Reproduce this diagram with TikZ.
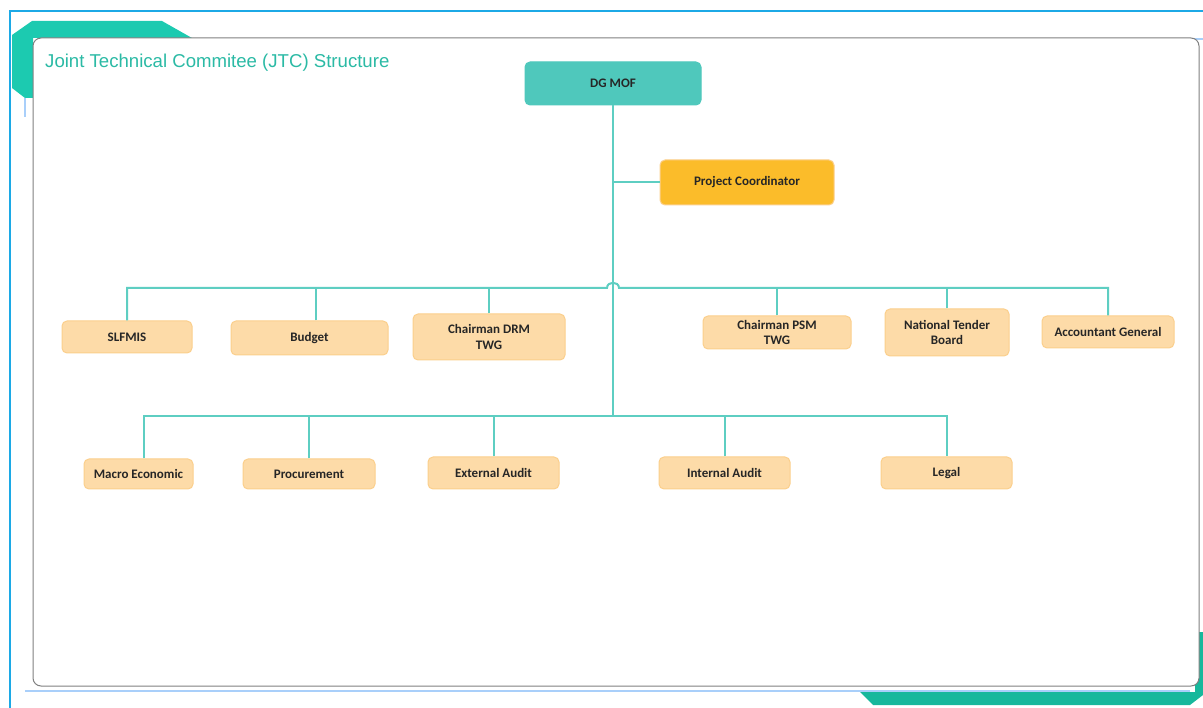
\documentclass[tikz,border=0pt]{standalone}
\usepackage{fontspec}
\setmainfont{Carlito}
\newfontfamily\titlefont{Liberation Sans}
\definecolor{outerblue}{HTML}{1CA9E6}
\definecolor{lightblue}{HTML}{A9CFFA}
\definecolor{tealA}{HTML}{1CCAB0}
\definecolor{tealB}{HTML}{17B89C}
\definecolor{titlec}{HTML}{2BBAA5}
\definecolor{linkc}{HTML}{5ECEC2}
\definecolor{boxfill}{HTML}{FDDBA8}
\definecolor{boxline}{HTML}{FBCF8C}
\definecolor{dgfill}{HTML}{4FC8BC}
\definecolor{pcfill}{HTML}{FBBC2A}
\definecolor{txt}{HTML}{262626}
\begin{document}
\begin{tikzpicture}[x=1pt,y=-1pt,
  box/.style={draw=boxline, fill=boxfill, rounded corners=5pt, line width=1pt,
    font=\bfseries\fontsize{13}{15.5}\selectfont, text=txt, align=center, inner sep=0pt},
  link/.style={draw=linkc, line width=2pt}]
\useasboundingbox (0,0) rectangle (1203,708);
% frame
\fill[tealA] (12,35) -- (32,21) -- (162,21) -- (192,38) -- (33,38) -- (33,98) -- (25,98) -- (12,88) -- cycle;
\fill[tealB] (860,692) -- (873,705) -- (1190,705) -- (1203,695) -- (1203,632) -- (1195,632) -- (1195,692) -- cycle;
\draw[outerblue, line width=1.5pt] (10,708) -- (10,11) -- (1203,11);
\draw[lightblue, line width=1.2pt] (190,39) -- (1203,39);
\draw[lightblue, line width=1.2pt] (25,98) -- (25,117);
\draw[lightblue, line width=1.2pt] (25,691) -- (1190,691);
\draw[gray, fill=white, line width=1pt, rounded corners=8pt] (33,38) rectangle (1199,686);
\node[anchor=west, inner sep=0pt, text=titlec, font=\titlefont\fontsize{18.6}{22}\selectfont] (title) at (45,63) {Joint Technical Commitee (JTC) Structure};
% nodes
\node[box, fill=dgfill, draw=dgfill, minimum width=176, minimum height=43] (dg) at (613,83.5) {DG MOF};
\node[box, fill=pcfill, draw=boxline, minimum width=174, minimum height=45] (pc) at (747,182.5) {Project Coordinator};
\node[box, minimum width=130, minimum height=32] (slfmis) at (127,337) {SLFMIS};
\node[box, minimum width=157, minimum height=34] (budget) at (309.5,338) {Budget};
\node[box, minimum width=152, minimum height=46] (drm) at (489,337) {Chairman DRM\\TWG};
\node[box, minimum width=148, minimum height=33] (psm) at (777,332.5) {Chairman PSM\\TWG};
\node[box, minimum width=124, minimum height=47] (ntb) at (947,332.5) {National Tender\\Board};
\node[box, minimum width=132, minimum height=32] (ag) at (1108,332) {Accountant General};
\node[box, minimum width=109, minimum height=30] (macro) at (138.5,474) {Macro Economic};
\node[box, minimum width=132, minimum height=30] (proc) at (309,474) {Procurement};
\node[box, minimum width=131, minimum height=32] (ext) at (493.5,473) {External Audit};
\node[box, minimum width=131, minimum height=32] (int) at (724.5,473) {Internal Audit};
\node[box, minimum width=131, minimum height=32] (legal) at (946.5,473) {Legal};
% connectors
\coordinate (b1) at (613,288);
\coordinate (b2) at (613,416);
\draw[link] (dg.south) -- (b2);
\draw[link] (dg.south |- pc.west) -- (pc.west);
\draw[link] (slfmis.north) -- (slfmis.north |- b1) -- ([xshift=-6pt]b1) .. controls ([xshift=-6pt,yshift=7pt]b1) and ([xshift=6pt,yshift=7pt]b1) .. ([xshift=6pt]b1) -- (ag.north |- b1) -- (ag.north);
\draw[link] ([xshift=6.5pt]budget.north) -- ([xshift=6.5pt]budget.north |- b1);
\foreach \n in {drm,psm,ntb}{
  \draw[link] (\n.north) -- (\n.north |- b1);
}
\draw[link] ([xshift=5.5pt]macro.north) -- ([xshift=5.5pt]macro.north |- b2) -- (legal.north |- b2) -- (legal.north);
\foreach \n in {proc,ext,int}{
  \draw[link] (\n.north) -- (\n.north |- b2);
}
\end{tikzpicture}
\end{document}
